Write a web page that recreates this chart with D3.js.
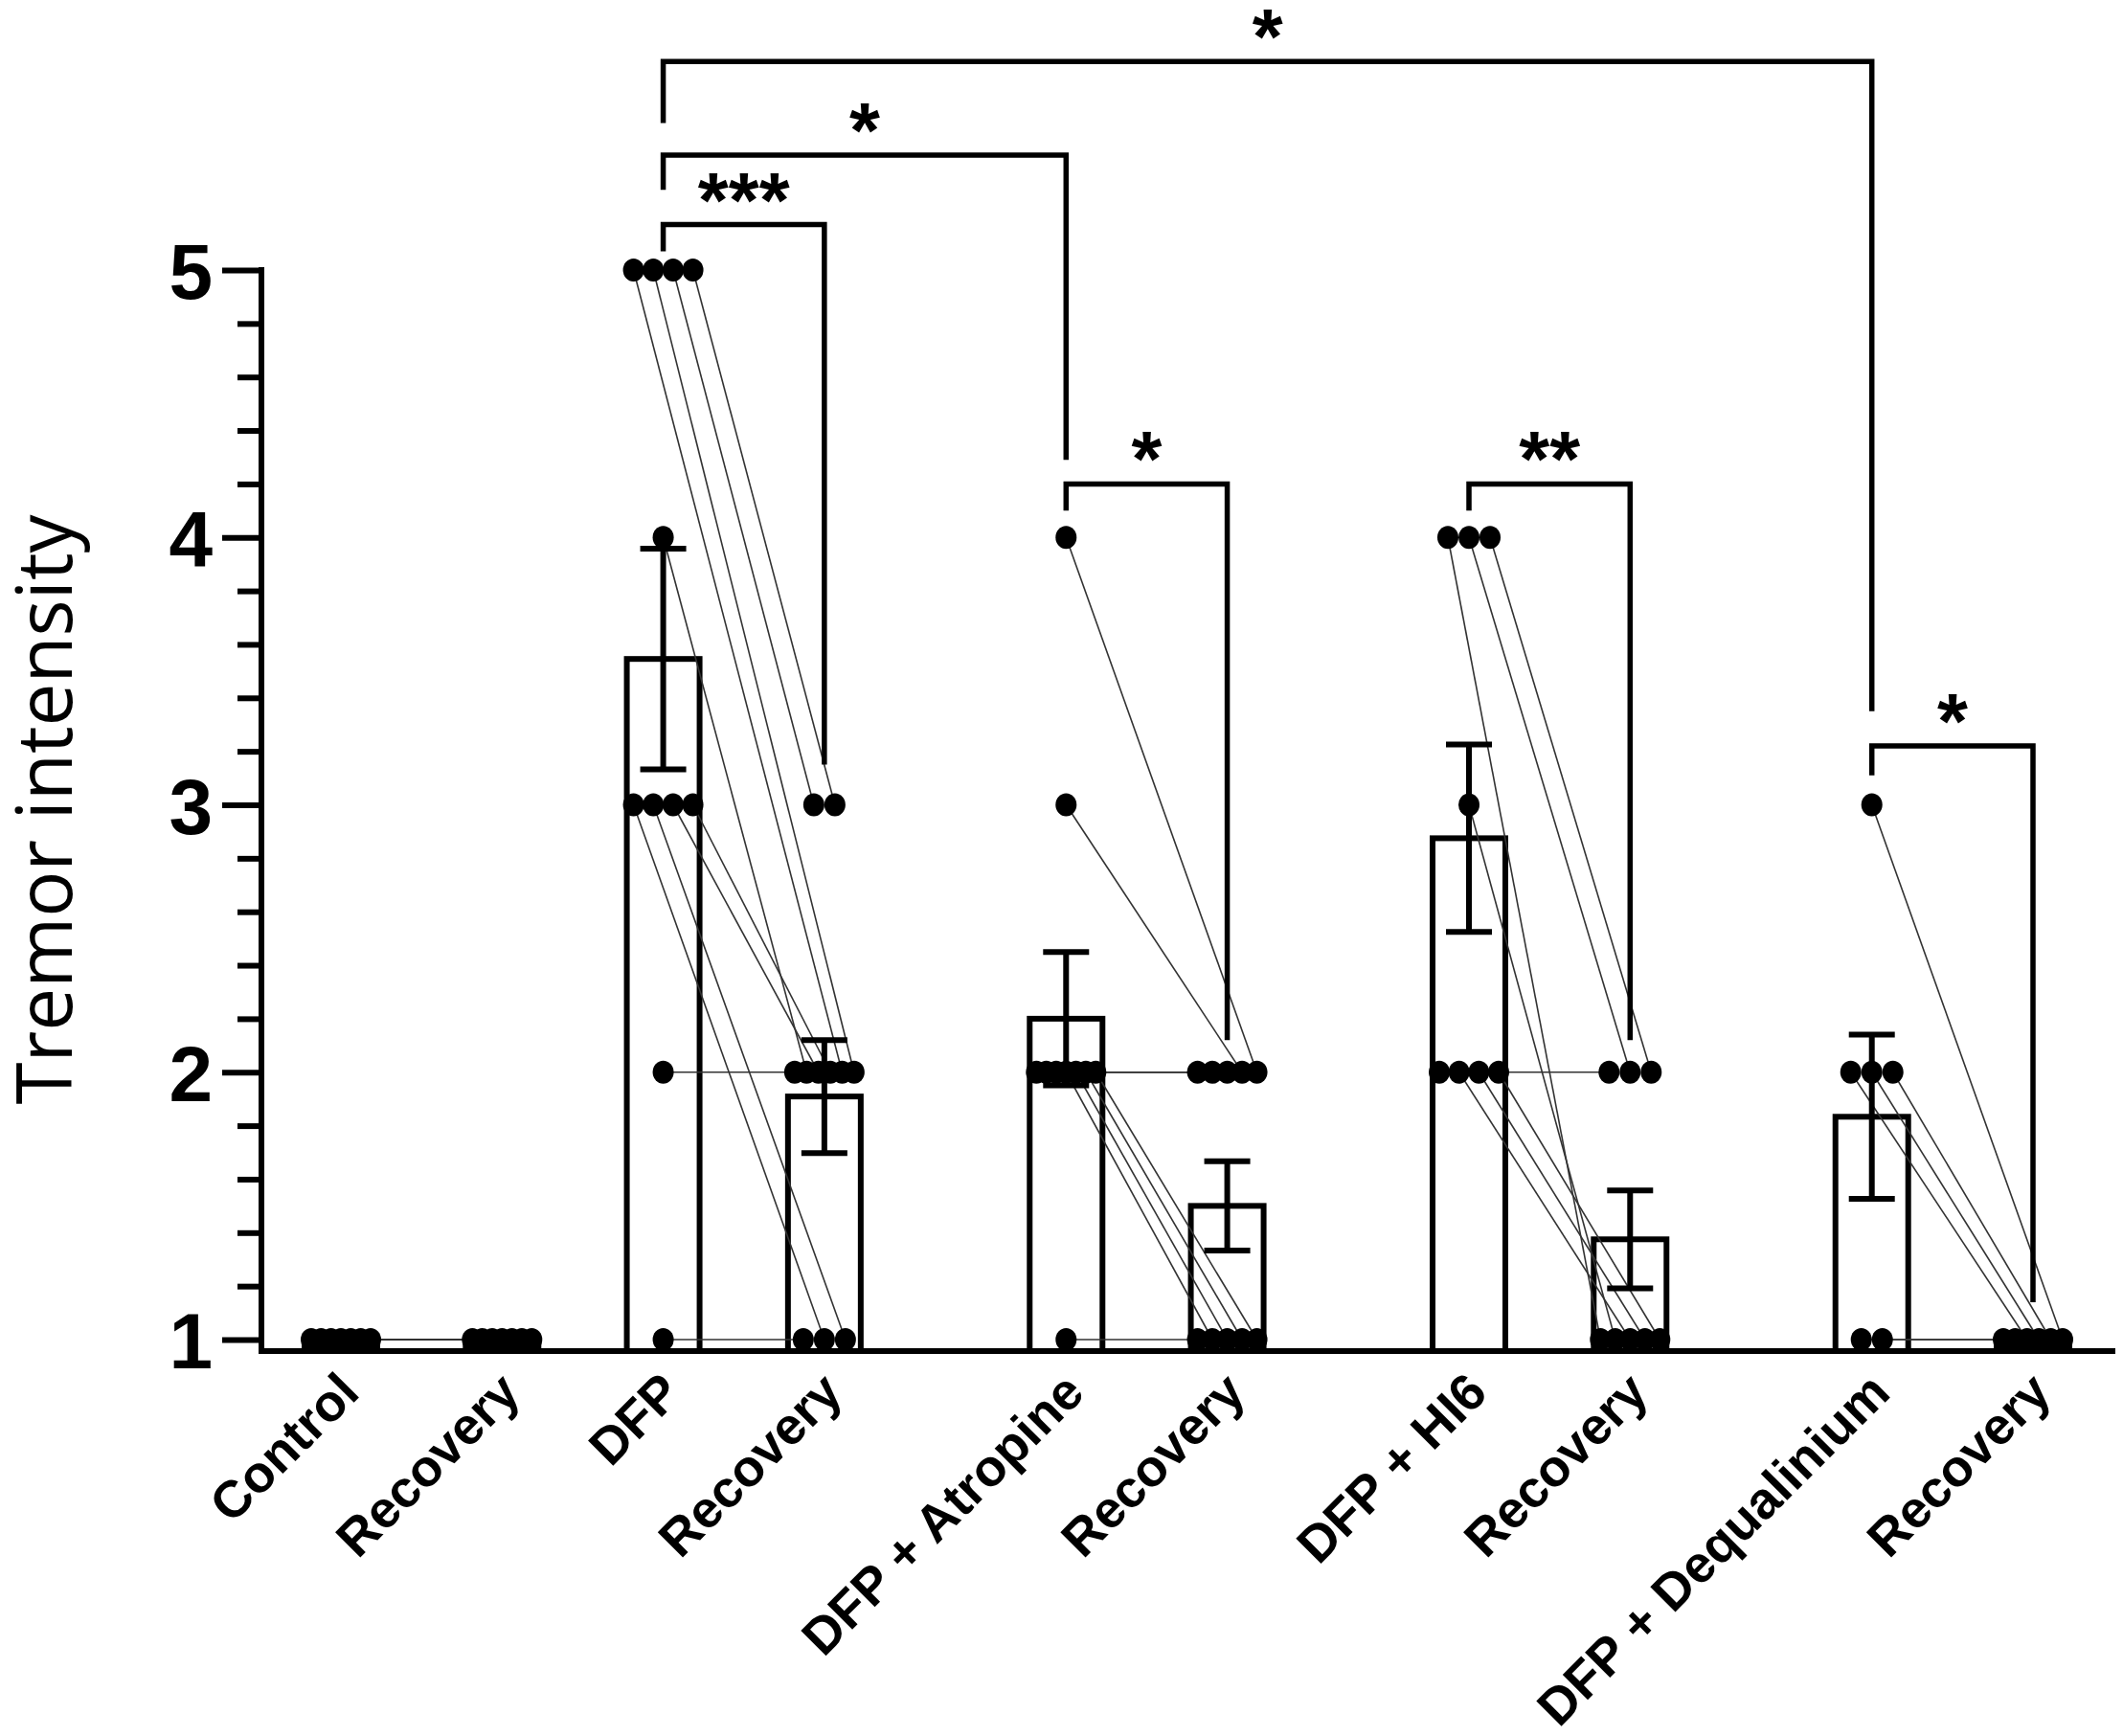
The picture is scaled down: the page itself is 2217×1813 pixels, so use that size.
<!DOCTYPE html>
<html>
<head>
<meta charset="utf-8">
<script src="https://cdn.jsdelivr.net/npm/d3@7"></script>
<style>
  body { margin: 0; background: #fff; }
  svg { display: block; }
</style>
</head>
<body>
<div id="chart"></div>
<script>
// column names, left to right
var names = ["Control", "Recovery", "DFP", "Recovery", "DFP + Atropine", "Recovery",
             "DFP + HI6", "Recovery", "DFP + Dequalinium", "Recovery"];

// paired scores, one entry per animal (before / after), in row order
var controlPre      = [1, 1, 1, 1, 1, 1, 1];
var controlPost     = [1, 1, 1, 1, 1, 1, 1];
var dfpPre          = [2, 1, 4, 3, 3, 3, 3, 5, 5, 5, 5];
var dfpPost         = [2, 1, 2, 1, 1, 2, 2, 2, 2, 3, 3];
var atropinePre     = [1, 2, 2, 2, 2, 2, 2, 2, 3, 4];
var atropinePost    = [1, 2, 2, 2, 1, 1, 1, 1, 2, 2];
var hi6Pre          = [2, 4, 4, 4, 3, 2, 2, 2];
var hi6Post         = [2, 1, 2, 2, 1, 1, 1, 1];
var dequaliniumPre  = [1, 1, 2, 2, 2, 3];
var dequaliniumPost = [1, 1, 1, 1, 1, 1];

// y axis ticks
var majorTicks = [1, 2, 3, 4, 5];
var minorTicks = [1.2, 1.4, 1.6, 1.8, 2.2, 2.4, 2.6, 2.8, 3.2, 3.4, 3.6, 3.8, 4.2, 4.4, 4.6, 4.8];

// significance brackets: [from column, to column, label, bar level, left leg end, right leg end]
var comparisons = [
    [2, 3, "***", 5.17, 5.07, 3.15],
    [2, 4, "*",   5.43, 5.30, 4.29],
    [2, 8, "*",   5.78, 5.55, 3.35],
    [4, 5, "*",   4.20, 4.10, 2.12],
    [6, 7, "**",  4.20, 4.10, 2.12],
    [8, 9, "*",   3.22, 3.11, 1.14]
];

var columns = [controlPre, controlPost, dfpPre, dfpPost, atropinePre, atropinePost,
               hi6Pre, hi6Post, dequaliniumPre, dequaliniumPost];

// layout
var width = 2217, height = 1813;
var groupGap = [0, 1, 1, 1, 1.5, 1, 1.5, 1, 1.5, 1];   // distance from previous column
var slots = [];
groupGap.reduce(function(acc, g, i) { slots[i] = acc + g; return acc + g; }, 0);

var barHalf = 38;
var capHalf = 24;
var dotR = 11.5;
var strokeW = 6;

var x = d3.scaleLinear().domain([0, d3.max(slots)]).range([356, 2123]);
var y = d3.scaleLinear().domain([1, 5]).range([1399, 282]);
var axisLeftX = 273;
var axisBottomY = y(1) + 12;

var svg = d3.select("#chart").append("svg")
    .attr("width", width)
    .attr("height", height)
    .style("background", "#fff");

// spread tied values side by side, like the prism scatter
function dotOffsets(vals) {
    var byVal = d3.group(vals.map(function(v, i) { return {v: v, i: i}; }), function(d) { return d.v; });
    var off = [];
    byVal.forEach(function(list) {
        var k = list.length;
        var step = k > 1 ? Math.min(22, 62 / (k - 1)) : 0;
        list.forEach(function(d, j) { off[d.i] = (j - (k - 1) / 2) * step; });
    });
    return off;
}

var colData = columns.map(function(vals, c) {
    var n = vals.length;
    var m = d3.mean(vals);
    var sem = n > 1 ? d3.deviation(vals) / Math.sqrt(n) : 0;
    var off = dotOffsets(vals);
    return {
        c: c, cx: x(slots[c]), mean: m, sem: sem,
        pts: vals.map(function(v, i) { return {v: v, px: x(slots[c]) + off[i], py: y(v)}; })
    };
});

// bars
svg.append("g")
    .selectAll("rect")
    .data(colData)
    .enter()
    .append("rect")
    .attr("x", function(d) { return d.cx - barHalf; })
    .attr("y", function(d) { return y(d.mean); })
    .attr("width", barHalf * 2)
    .attr("height", function(d) { return Math.max(0, axisBottomY - y(d.mean)); })
    .style("fill", "#fff")
    .style("stroke", "#000")
    .style("stroke-width", strokeW);

// before/after lines
var links = [];
for (var p = 0; p < columns.length; p += 2) {
    colData[p].pts.forEach(function(a, i) {
        var b = colData[p + 1].pts[i];
        links.push({x1: a.px, y1: a.py, x2: b.px, y2: b.py});
    });
}
svg.append("g")
    .selectAll("line")
    .data(links)
    .enter()
    .append("line")
    .attr("x1", function(d) { return d.x1; })
    .attr("y1", function(d) { return d.y1; })
    .attr("x2", function(d) { return d.x2; })
    .attr("y2", function(d) { return d.y2; })
    .style("stroke", "#333")
    .style("stroke-width", 1.6);

// error bars (mean +/- SEM)
var eb = svg.append("g")
    .selectAll("g")
    .data(colData.filter(function(d) { return d.sem > 0; }))
    .enter()
    .append("g")
    .style("stroke", "#000")
    .style("stroke-width", strokeW);
eb.append("line")
    .attr("x1", function(d) { return d.cx; })
    .attr("x2", function(d) { return d.cx; })
    .attr("y1", function(d) { return y(d.mean - d.sem); })
    .attr("y2", function(d) { return y(d.mean + d.sem); });
eb.append("line")
    .attr("x1", function(d) { return d.cx - capHalf; })
    .attr("x2", function(d) { return d.cx + capHalf; })
    .attr("y1", function(d) { return y(d.mean + d.sem); })
    .attr("y2", function(d) { return y(d.mean + d.sem); });
eb.append("line")
    .attr("x1", function(d) { return d.cx - capHalf; })
    .attr("x2", function(d) { return d.cx + capHalf; })
    .attr("y1", function(d) { return y(d.mean - d.sem); })
    .attr("y2", function(d) { return y(d.mean - d.sem); });

// dots
svg.append("g")
    .selectAll("ellipse")
    .data(colData.flatMap(function(d) { return d.pts; }))
    .enter()
    .append("ellipse")
    .attr("cx", function(d) { return d.px; })
    .attr("cy", function(d) { return d.py; })
    .attr("rx", dotR - 0.5)
    .attr("ry", dotR + 0.5)
    .style("fill", "#000");

// y axis: minor then major ticks
var gMinor = svg.append("g")
    .attr("transform", "translate(" + axisLeftX + ",0)")
    .call(d3.axisLeft(y).tickValues(minorTicks).tickSize(25).tickFormat(""));
gMinor.select(".domain").remove();
gMinor.selectAll("line").attr("stroke-width", strokeW);

var gMajor = svg.append("g")
    .attr("transform", "translate(" + axisLeftX + ",0)")
    .call(d3.axisLeft(y).tickValues(majorTicks).tickSize(41).tickPadding(10).tickFormat(d3.format("d")));
gMajor.select(".domain").remove();
gMajor.selectAll("line").attr("stroke-width", strokeW);
gMajor.selectAll("text")
    .attr("dy", "0.36em")
    .style("font-family", "'Liberation Sans', Arial, sans-serif")
    .style("font-weight", "bold")
    .style("font-size", "82px")
    .style("fill", "#000");

svg.append("line")
    .attr("x1", axisLeftX).attr("x2", axisLeftX)
    .attr("y1", y(5) - 3).attr("y2", axisBottomY + 3)
    .style("stroke", "#000").style("stroke-width", strokeW);

// x axis with rotated labels
var gx = svg.append("g")
    .attr("transform", "translate(0," + axisBottomY + ")")
    .call(d3.axisBottom(x).tickValues(slots).tickSize(0).tickFormat(function(d, i) { return names[i]; }));
gx.select(".domain").remove();
gx.selectAll("text")
    .attr("x", 0).attr("y", 0).attr("dy", 0)
    .attr("transform", "translate(21,46) rotate(-45)")
    .style("text-anchor", "end")
    .style("font-family", "'Liberation Sans', Arial, sans-serif")
    .style("font-weight", "bold")
    .style("font-size", "54px")
    .style("fill", "#000");

svg.append("line")
    .attr("x1", axisLeftX - 3).attr("x2", 2209)
    .attr("y1", axisBottomY).attr("y2", axisBottomY)
    .style("stroke", "#000").style("stroke-width", strokeW);

// y title
svg.append("text")
    .attr("transform", "translate(75," + ((y(1) + y(5)) / 2 + 5) + ") rotate(-90)")
    .style("text-anchor", "middle")
    .style("font-family", "'Open Sans', sans-serif")
    .style("font-size", "80px")
    .style("fill", "#000")
    .text("Tremor intensity");

// significance brackets
var br = svg.append("g")
    .selectAll("g")
    .data(comparisons)
    .enter()
    .append("g");
br.append("path")
    .attr("d", function(d) {
        var x1 = x(slots[d[0]]), x2 = x(slots[d[1]]);
        return "M" + x1 + "," + y(d[4]) + "V" + y(d[3]) + "H" + x2 + "V" + y(d[5]);
    })
    .style("fill", "none")
    .style("stroke", "#000")
    .style("stroke-width", 5.5);
br.append("text")
    .attr("x", function(d) { return (x(slots[d[0]]) + x(slots[d[1]])) / 2; })
    .attr("y", function(d) { return y(d[3]) + 2; })
    .style("text-anchor", "middle")
    .style("font-family", "'Liberation Sans', Arial, sans-serif")
    .style("font-weight", "bold")
    .style("font-size", "82px")
    .style("fill", "#000")
    .text(function(d) { return d[2]; });
</script>
</body>
</html>
